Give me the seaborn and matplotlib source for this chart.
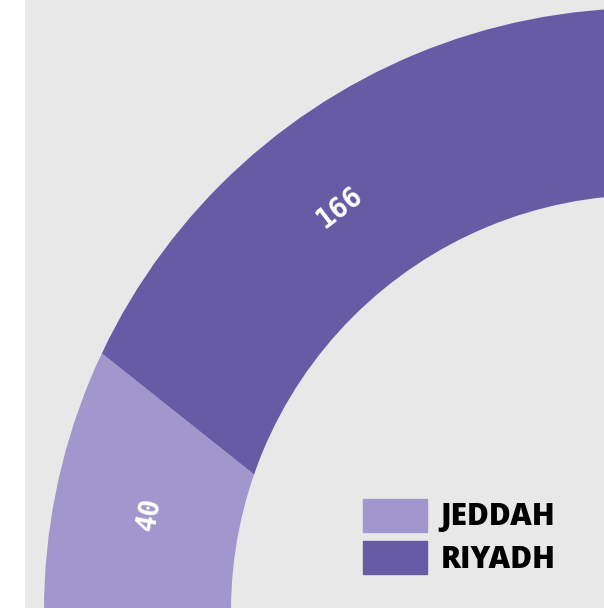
import matplotlib
matplotlib.use("Agg")
import matplotlib.pyplot as plt
import seaborn as sns
import numpy as np
from matplotlib.patches import Wedge, Patch

# data
cities = ["JEDDAH", "RIYADH"]
counts = [40, 166]
colors = ["#a197cd", "#675ba6"]

sns.set_theme(style="white")
plt.rcParams["font.family"] = ["Open Sans", "DejaVu Sans"]

fig = plt.figure(figsize=(6.04, 6.08), dpi=100)
ax = fig.add_axes([25 / 604, 0, 579 / 604, 1])
ax.set_facecolor("#e8e8e8")

# geometry in pixel units (y up); the ring centre sits just off the bottom-right corner
ring_c = (647, -3)
r_out, r_in = 603, 416
cut_c = (647, -179)  # slice cut in the original is not radial to the ring

wedges, _ = ax.pie(counts, colors=colors, startangle=141.5, counterclock=True,
                   center=cut_c, radius=900, frame=True,
                   wedgeprops=dict(linewidth=0))
ring = Wedge(ring_c, r_out, 0, 360, width=r_out - r_in, transform=ax.transData)
for w in wedges:
    w.set_clip_on(True)  # pie turns clipping off
    w.set_clip_path(ring)

# value labels along the ring
label_angles = [169.0, 127.3]
r_lab = r_in + 0.49 * (r_out - r_in)
for val, ang in zip(counts, label_angles):
    t = np.deg2rad(ang)
    ax.text(ring_c[0] + r_lab * np.cos(t), ring_c[1] + r_lab * np.sin(t), str(val),
            rotation=ang - 90, rotation_mode="anchor", ha="center", va="center",
            color="white", fontsize=20, fontweight="bold",
            fontfamily="DejaVu Sans Mono")

handles = [Patch(facecolor=c, edgecolor=c, label=n) for c, n in zip(colors, cities)]
leg = ax.legend(handles=handles, loc="upper left",
                bbox_to_anchor=(363 / 604, 1 - 499 / 608), bbox_transform=fig.transFigure,
                frameon=False, borderpad=0, borderaxespad=0,
                handlelength=2.15, handleheight=1.32, handletextpad=0.45, labelspacing=0.3,
                prop=dict(family="Open Sans", weight="heavy", size=21.5))
for txt in leg.get_texts():
    txt.set_color("black")

ax.set_xlim(25, 604)
ax.set_ylim(0, 608)
ax.set_xticks([])
ax.set_yticks([])
for s in ax.spines.values():
    s.set_visible(False)

fig.savefig("out.png", dpi=100, facecolor="white")
